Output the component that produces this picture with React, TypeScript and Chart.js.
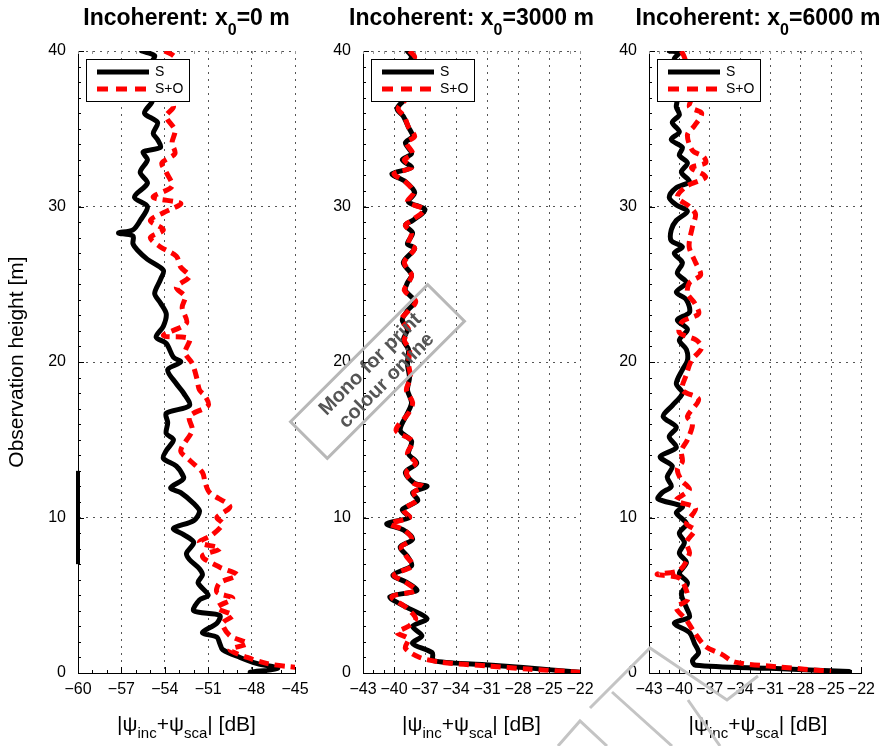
import React, { useEffect, useRef } from 'react';
import { Chart, registerables } from 'chart.js';

Chart.register(...registerables);

const FONT = '"Liberation Sans", Arial, Helvetica, sans-serif';

// ---------- data (height [m] -> |psi_inc+psi_sca| [dB]) ----------
// Panel 1: x0 = 0 m
const p1SHeight = [40, 39.7, 39.3, 38.8, 38.2, 37.6, 37.1, 36.7, 36, 35.4, 34.7, 34.3, 33.8, 33.5, 33, 32.2, 31.5, 30.6, 30, 29.1, 28.5, 28.3, 28.1, 27.6, 27.2, 26.6, 25.9, 25.3, 24.4, 23.8, 23.1, 22.3, 21.6, 21.2, 20.3, 20, 19.5, 18.6, 18, 17.2, 16.7, 16.1, 15.4, 15, 14.3, 13.8, 13.3, 12.6, 12.4, 11.9, 11.6, 10.9, 10.4, 9.8, 9.3, 8.9, 8.4, 7.7, 7.3, 6.7, 6.3, 5.8, 5, 4.7, 4, 3.7, 3.2, 2.6, 2.3, 1.9, 1.5, 1, 0.6, 0.3, 0.05];
const p1SValue = [-55.6, -54.7, -54.9, -55.2, -54.8, -55.1, -54.8, -54.9, -55.4, -54.5, -54.8, -54.5, -54.3, -55.5, -55.2, -55.7, -55.2, -56.1, -55.2, -55.7, -56.2, -57.2, -56.2, -56.2, -55.9, -55.2, -54.1, -54.3, -54.7, -54.3, -53.9, -54.1, -54.6, -53.9, -53.4, -52.9, -53.8, -53.2, -52.7, -52.3, -53.9, -53.8, -53.9, -53.4, -53.9, -54.1, -53.2, -52.7, -52.8, -53.6, -52.9, -52.0, -51.6, -52.0, -53.4, -52.7, -52.0, -52.5, -52.3, -51.6, -51.4, -51.7, -51.0, -51.6, -52.0, -50.2, -50.4, -51.4, -50.4, -50.2, -50.0, -48.8, -47.6, -46.2, -48.1];
const p1SOHeight = [40, 39.6, 39, 38, 37, 36.4, 35.8, 34.9, 34.1, 33.4, 32.8, 32.2, 31.3, 30.6, 30.2, 29.6, 29.1, 28.5, 28, 27.4, 26.8, 26.1, 25.5, 24.8, 24.2, 23.5, 22.5, 21.7, 21.5, 20.6, 19.9, 19, 18.2, 17.8, 17.2, 16.5, 15.6, 14.3, 13.7, 12.9, 12.2, 11.6, 10.7, 10, 9.6, 8.9, 8.4, 8, 7.5, 6.8, 6.3, 5.8, 5.2, 4.8, 4.2, 3.7, 3.2, 2.4, 1.9, 1.5, 1, 0.6, 0.4, 0.3];
const p1SOValue = [-54.0, -53.3, -53.6, -53.4, -53.7, -53.4, -53.9, -53.3, -53.5, -53.3, -54.2, -53.9, -53.5, -54.8, -52.9, -54.1, -55.0, -54.1, -55.0, -54.3, -53.2, -52.9, -52.3, -53.2, -52.6, -52.8, -52.5, -54.1, -52.3, -52.6, -52.1, -51.8, -51.6, -51.2, -51.0, -52.3, -52.1, -52.9, -52.3, -51.4, -51.2, -50.9, -49.5, -50.4, -50.0, -50.7, -51.6, -50.2, -51.4, -50.2, -49.0, -50.2, -50.4, -49.3, -50.4, -49.3, -50.0, -49.5, -48.3, -49.5, -48.3, -46.9, -45.3, -44.0];

// Panel 2: x0 = 3000 m
const p2SHeight = [40, 39.6, 39, 38, 37.1, 36.3, 35.8, 35.1, 34.5, 34.1, 33.4, 33, 32.5, 32.1, 31.6, 30.9, 30.3, 29.8, 29.1, 28.8, 28.3, 27.6, 27.3, 26.4, 25.6, 25.1, 24.6, 23.9, 23.3, 22.7, 22.1, 21.4, 20.8, 19.9, 19, 18.2, 17.4, 16.7, 15.6, 14.9, 14.1, 13.5, 12.9, 12.2, 12, 11.6, 11.1, 10.5, 10, 9.6, 9.2, 8.6, 8.1, 7.5, 6.9, 6.3, 5.8, 5.3, 4.9, 4.2, 3.5, 3, 2.4, 1.9, 1.3, 0.8, 0.55, 0.35, 0.05];
const p2SValue = [-38.7, -38.3, -38.9, -38.5, -38.7, -39.7, -39.1, -38.6, -38.2, -38.9, -38.3, -39.2, -38.3, -40.2, -38.9, -38.0, -38.6, -37.0, -38.2, -38.9, -38.2, -38.7, -38.0, -39.1, -38.3, -38.7, -38.9, -38.0, -38.7, -39.2, -38.7, -39.1, -38.6, -38.7, -38.5, -38.7, -38.3, -38.7, -39.4, -38.3, -38.6, -37.8, -38.9, -38.0, -36.8, -38.2, -37.7, -39.2, -38.5, -40.7, -39.1, -38.2, -39.4, -38.7, -38.3, -40.1, -38.7, -37.8, -40.4, -38.7, -36.8, -38.2, -37.3, -38.2, -36.3, -36.2, -31.5, -27.5, -22.0];
const p2SOHeight = [40, 39.6, 39, 38, 37.1, 36.3, 35.8, 35.1, 34.5, 34.1, 33.4, 33, 32.5, 32.1, 31.6, 30.9, 30.3, 29.8, 29.1, 28.8, 28.3, 27.6, 27.3, 26.4, 25.6, 25.1, 24.6, 23.9, 23.3, 22.7, 22.1, 21.4, 20.8, 19.9, 19, 18.2, 17.4, 16.7, 15.6, 14.9, 14.1, 13.5, 12.9, 12.2, 12, 11.6, 11.1, 10.5, 10, 9.6, 9.2, 8.6, 8.1, 7.5, 6.9, 6.3, 5.8, 5.3, 4.9, 4.2, 3.5, 3, 2.6, 2.2, 1.6, 1, 0.7, 0.45, 0.25, 0.05];
const p2SOValue = [-38.5, -38.0, -38.7, -38.4, -38.6, -39.6, -39.0, -38.6, -38.0, -38.8, -38.2, -39.0, -38.3, -40.0, -38.9, -38.1, -38.7, -37.1, -38.3, -38.9, -38.3, -38.6, -38.0, -39.0, -38.3, -38.6, -39.0, -37.9, -38.6, -39.3, -38.6, -39.0, -38.5, -38.6, -38.4, -38.8, -38.2, -38.6, -39.8, -38.2, -38.7, -37.9, -38.8, -38.1, -37.2, -38.1, -37.8, -39.1, -38.5, -40.4, -39.0, -38.3, -39.3, -38.8, -38.2, -40.0, -38.8, -37.9, -40.2, -38.8, -37.9, -38.6, -39.7, -38.6, -38.9, -37.5, -35.5, -31.0, -27.0, -22.0];

// Panel 3: x0 = 6000 m
const p3SHeight = [40, 39.9, 39.5, 38.5, 37.5, 36.9, 36.4, 35.9, 35.4, 34.8, 34.3, 33.8, 33.3, 32.8, 32.2, 31.6, 31.2, 30.6, 30.1, 29.7, 29.1, 28.5, 27.8, 27.4, 27, 26.4, 25.7, 25.1, 24.5, 24, 23.2, 22.7, 22.1, 21.4, 20.8, 20.1, 19.5, 18.6, 18, 17.2, 16.5, 15.8, 15.2, 14.5, 13.9, 13.3, 12.6, 12, 11.6, 11.2, 10.7, 10.3, 9.6, 9, 8.4, 7.7, 7.1, 6.4, 5.8, 5.1, 4.2, 3.6, 3.2, 2.6, 1.9, 1.3, 0.8, 0.5, 0.3, 0.1];
const p3SValue = [-41.0, -40.0, -40.5, -40.2, -40.4, -40.2, -40.3, -40.0, -40.7, -40.0, -40.8, -39.7, -40.0, -39.2, -39.8, -39.0, -40.3, -41.0, -40.3, -39.2, -40.3, -40.8, -40.8, -39.7, -40.5, -39.7, -40.2, -39.3, -40.3, -39.3, -39.0, -40.2, -39.2, -40.0, -39.3, -39.2, -39.7, -40.3, -39.7, -40.7, -41.6, -40.3, -41.0, -40.3, -41.9, -40.7, -41.2, -40.8, -41.7, -42.1, -39.7, -40.3, -39.3, -40.0, -39.5, -40.0, -39.3, -40.0, -39.2, -39.8, -39.3, -39.0, -40.5, -39.0, -38.5, -38.1, -38.7, -38.4, -31.0, -23.2];
const p3SOHeight = [40, 39.6, 38.5, 37, 36.4, 36, 35.2, 34.6, 33.6, 33.2, 32.8, 32.5, 31.9, 31.3, 30.6, 30, 29.5, 28.7, 27.8, 27.3, 26.4, 25.6, 25.1, 24.4, 23.8, 23.1, 22.6, 21.9, 21.4, 20.9, 20.1, 19.2, 18.2, 17.6, 16.5, 16, 15, 14.3, 13.6, 13.1, 12.4, 11.8, 11.1, 10.6, 9.6, 9.2, 8.4, 7.7, 6.6, 6.35, 6.1, 5.3, 4.7, 4.2, 3.4, 2.6, 1.7, 1.2, 0.7, 0.4, 0.1];
const p3SOValue = [-39.8, -39.5, -39.0, -38.8, -39.0, -37.8, -38.5, -39.2, -38.7, -37.6, -37.4, -38.8, -37.4, -39.3, -40.2, -39.0, -38.4, -38.7, -39.0, -39.0, -38.4, -37.9, -39.0, -39.2, -38.5, -38.1, -39.7, -40.0, -38.3, -37.8, -38.8, -39.3, -39.7, -38.1, -39.2, -38.7, -39.2, -39.8, -39.7, -40.2, -39.8, -39.0, -40.3, -38.4, -39.3, -38.5, -39.3, -39.0, -40.0, -42.2, -40.0, -39.3, -39.2, -40.3, -39.3, -38.5, -37.4, -35.8, -34.5, -30.3, -25.0];

// marker bar on the first panel's height axis
const barHeight = [7, 13];
const barValue = [-60, -60];

// axes
const titles = ['0', '3000', '6000'];
const xMins = [-60, -43, -43];
const xMaxs = [-45, -22, -22];
const xStep = 3;
const yMin = 0;
const yMax = 40;
const yStep = 10;
const seriesLabels = ['S', 'S+O'];

const PANELS = [
  { sH: p1SHeight, sV: p1SValue, soH: p1SOHeight, soV: p1SOValue, bar: true },
  { sH: p2SHeight, sV: p2SValue, soH: p2SOHeight, soV: p2SOValue, bar: false },
  { sH: p3SHeight, sV: p3SValue, soH: p3SOHeight, soV: p3SOValue, bar: false },
];

// ---------- layout ----------
const W = 882;
const H = 746;
const GEOM = [
  { left: 78, right: 295 },
  { left: 363, right: 580 },
  { left: 649, right: 867 },
];
const TOP = 51;
const BOTTOM = 673;
const YW = 50;
const XH = 40;

const toPts = (h: number[], v: number[]) => h.map((y, i) => ({ x: v[i], y }));
const fmt = (v: number) => (v < 0 ? '\u2212' + Math.abs(v) : String(v));

const decor = {
  id: 'decor',
  beforeDatasetsDraw(chart: any) {
    const { ctx, chartArea, scales } = chart;
    const { left, right, top, bottom } = chartArea;
    const x = scales.x;
    const y = scales.y;
    ctx.save();
    ctx.lineWidth = 1;
    ctx.strokeStyle = '#000';
    ctx.beginPath();
    for (let v = y.min; v <= y.max + 1e-9; v += 1) {
      const py = Math.round(y.getPixelForValue(v)) + 0.5;
      const len = Math.abs(v % 10) < 1e-9 ? 6 : 3;
      ctx.moveTo(left, py);
      ctx.lineTo(left + len, py);
    }
    for (let v = x.min; v <= x.max + 1e-9; v += 1) {
      const px = Math.round(x.getPixelForValue(v)) + 0.5;
      const major = Math.abs((v - x.min) % 3) < 1e-9;
      const len = major ? 6 : 3;
      ctx.moveTo(px, bottom);
      ctx.lineTo(px, bottom - len);
    }
    ctx.stroke();
    ctx.strokeStyle = '#999';
    ctx.beginPath();
    for (let v = x.min; v <= x.max + 1e-9; v += 1) {
      const px = Math.round(x.getPixelForValue(v)) + 0.5;
      ctx.moveTo(px, top);
      ctx.lineTo(px, top + 3);
    }
    ctx.stroke();
    ctx.restore();
  },
  afterDraw(chart: any) {
    const { ctx, chartArea } = chart;
    const L = chartArea.left;
    ctx.save();
    const bx = L + 8.5;
    const by = 59.5;
    ctx.fillStyle = '#fff';
    ctx.fillRect(bx, by, 103, 42);
    ctx.strokeStyle = '#000';
    ctx.lineWidth = 1;
    ctx.strokeRect(bx, by, 103, 42);
    ctx.lineWidth = 5;
    ctx.beginPath();
    ctx.moveTo(L + 19, 72);
    ctx.lineTo(L + 71, 72);
    ctx.stroke();
    ctx.strokeStyle = '#ff0000';
    ctx.setLineDash([11, 8]);
    ctx.beginPath();
    ctx.moveTo(L + 19, 89);
    ctx.lineTo(L + 71, 89);
    ctx.stroke();
    ctx.setLineDash([]);
    ctx.fillStyle = '#000';
    ctx.font = `14px ${FONT}`;
    ctx.textBaseline = 'middle';
    ctx.textAlign = 'left';
    ctx.fillText(seriesLabels[0], L + 77, 72);
    ctx.fillText(seriesLabels[1], L + 77, 89);
    ctx.restore();
  },
};

function buildConfig(i: number): any {
  const p = PANELS[i];
  const g = GEOM[i];
  const datasets: any[] = [
    {
      label: seriesLabels[1],
      data: toPts(p.soH, p.soV),
      showLine: true,
      borderColor: '#ff0000',
      backgroundColor: '#ff0000',
      borderWidth: 5,
      borderDash: [10, 6],
      borderJoinStyle: 'round',
      pointRadius: 0,
      tension: 0.3,
      order: 1,
    },
    {
      label: seriesLabels[0],
      data: toPts(p.sH, p.sV),
      showLine: true,
      borderColor: '#000',
      backgroundColor: '#000',
      borderWidth: 5,
      borderJoinStyle: 'round',
      borderCapStyle: 'round',
      pointRadius: 0,
      tension: 0.3,
      order: 2,
    },
  ];
  if (p.bar) {
    datasets.push({
      label: 'bar',
      data: toPts(barHeight, barValue),
      showLine: true,
      borderColor: '#000',
      borderWidth: 4,
      pointRadius: 0,
      tension: 0,
      clip: false,
      order: 0,
    });
  }
  return {
    type: 'scatter',
    data: { datasets },
    options: {
      animation: false,
      responsive: false,
      maintainAspectRatio: false,
      events: [],
      layout: {
        padding: { left: g.left - YW, right: W - g.right, top: TOP, bottom: H - BOTTOM - XH },
      },
      plugins: { legend: { display: false }, tooltip: { enabled: false }, title: { display: false } },
      scales: {
        x: {
          type: 'linear',
          min: xMins[i],
          max: xMaxs[i],
          afterFit: (s: any) => { s.height = XH; },
          ticks: {
            stepSize: xStep,
            autoSkip: false,
            maxRotation: 0,
            minRotation: 0,
            padding: 7,
            color: '#000',
            font: { family: FONT, size: 16 },
            callback: (v: number) => fmt(v),
          },
          grid: { color: '#555', lineWidth: 1, drawTicks: false },
          border: { display: true, color: '#000', width: 1, dash: [2, 5] },
        },
        y: {
          type: 'linear',
          min: yMin,
          max: yMax,
          afterFit: (s: any) => { s.width = YW; },
          ticks: {
            stepSize: yStep,
            autoSkip: false,
            padding: 12,
            color: '#000',
            font: { family: FONT, size: 16 },
            callback: (v: number) => fmt(v),
          },
          grid: { color: '#555', lineWidth: 1, drawTicks: false },
          border: { display: true, color: '#000', width: 1, dash: [2, 5] },
        },
      },
    },
    plugins: [decor],
  };
}

export default function App() {
  const c0 = useRef<HTMLCanvasElement>(null);
  const c1 = useRef<HTMLCanvasElement>(null);
  const c2 = useRef<HTMLCanvasElement>(null);

  useEffect(() => {
    const refs = [c0, c1, c2];
    const charts = refs.map((r, i) => new Chart(r.current as HTMLCanvasElement, buildConfig(i)));
    return () => charts.forEach((c) => c.destroy());
  }, []);

  const canvasStyle: React.CSSProperties = { position: 'absolute', left: 0, top: 0, width: W, height: H };
  const sub = (t: string, size: number, off: number) => (
    <span style={{ fontSize: size, position: 'relative', top: off }}>{t}</span>
  );

  return (
    <div style={{ position: 'absolute', left: 0, top: 0, width: W, height: H, background: '#fff', overflow: 'hidden', fontFamily: FONT, color: '#000' }}>
      <canvas ref={c0} width={W} height={H} style={canvasStyle} />
      <canvas ref={c1} width={W} height={H} style={canvasStyle} />
      <canvas ref={c2} width={W} height={H} style={canvasStyle} />

      {GEOM.map((g, i) => (
        <div key={'t' + i} style={{ position: 'absolute', left: (g.left + g.right) / 2, top: 4, transform: 'translateX(-50%)', whiteSpace: 'nowrap', fontWeight: 'bold', fontSize: 23, lineHeight: '26px' }}>
          Incoherent: x{sub('0', 16, 10)}={titles[i]} m
        </div>
      ))}

      {GEOM.map((g, i) => (
        <div key={'x' + i} style={{ position: 'absolute', left: (g.left + g.right) / 2, top: 712, transform: 'translateX(-50%)', whiteSpace: 'nowrap', fontSize: 21, lineHeight: '24px' }}>
          |ψ{sub('inc', 15, 7)}+ψ{sub('sca', 15, 7)}| [dB]
        </div>
      ))}

      <div style={{ position: 'absolute', left: 16 - 200, top: (TOP + BOTTOM) / 2 - 12, width: 400, height: 24, textAlign: 'center', fontSize: 21, lineHeight: '24px', transform: 'rotate(-90deg)', whiteSpace: 'nowrap' }}>
        Observation height [m]
      </div>

      <svg width={W} height={H} style={{ position: 'absolute', left: 0, top: 0, pointerEvents: 'none' }}>
        <g fill="none" stroke="#c4c4c4" strokeWidth={3} strokeLinejoin="miter">
          <polyline points="558,746 580,721 607,746" />
          <polyline points="590,708 650,648 727,700 758,676" />
          <polyline points="612,692 672,746" />
          <polyline points="688,700 720,746" />
        </g>
      </svg>

      <div style={{ position: 'absolute', left: 377 - 98.5, top: 371 - 27.5, width: 197, height: 55, boxSizing: 'border-box', border: '3px solid #b8b8b8', transform: 'rotate(-45deg)', display: 'flex', flexDirection: 'column', alignItems: 'center', justifyContent: 'center', color: '#555', fontWeight: 'bold', fontSize: 20, lineHeight: '23px', whiteSpace: 'nowrap', pointerEvents: 'none' }}>
        <span>Mono for print</span>
        <span>colour online</span>
      </div>
    </div>
  );
}
